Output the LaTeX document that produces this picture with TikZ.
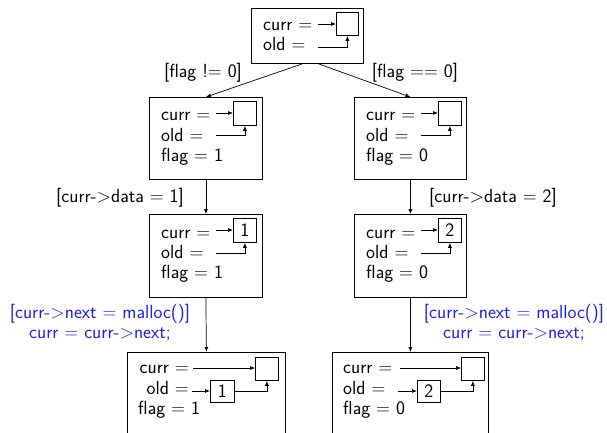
\documentclass[tikz,border=0pt]{standalone}
\usetikzlibrary{arrows.meta}
\definecolor{actionblue}{RGB}{30,30,235}
\begin{document}
\begin{tikzpicture}[x=1pt,y=-1pt,
  every node/.style={font=\sffamily\fontsize{19}{20}\selectfont},
  frame/.style={draw, line width=0.8pt, inner sep=0, anchor=north west},
  cell/.style={draw, line width=0.8pt, inner sep=0, anchor=north west,
    minimum width=23pt, minimum height=24pt},
  txt/.style={anchor=base west, inner sep=0},
  txtr/.style={anchor=base east, inner sep=0},
  ptr/.style={-{Latex[length=5pt,width=4pt]}, line width=0.7pt},
  flow/.style={-{Latex[length=5pt,width=4pt]}, line width=0.7pt},
  cond/.style={anchor=base, inner sep=0},
  act/.style={anchor=base, align=center, text=actionblue, inner sep=0}
]
\clip (0,0) rectangle (607,433);

% ---- initial state ----
\node[frame, minimum width=112pt, minimum height=55pt] (s0) at (251,8) {};
\node[txt] (s0c) at (263,31) {curr =};
\node[txt] (s0o) at (263,51) {old =};
\node[cell, minimum width=22pt, minimum height=23pt] (s0v) at (336,12) {};
\coordinate (s0a) at (318,24);
\coordinate (s0b) at (318,47);
\draw[ptr] (s0a) -- (s0a -| s0v.west);
\draw[ptr] (s0b) -| (s0v.south);

% ---- flag != 0 branch, after the test ----
\node[frame, minimum width=113pt, minimum height=82pt] (m1) at (149,97) {};
\node[txt] at (161,121) {curr =};
\node[txt] at (161,141) {old =};
\node[txt] at (161,161) {flag = 1};
\node[cell] (m1v) at (233,101) {};
\coordinate (m1a) at (216,113);
\coordinate (m1b) at (216,135);
\draw[ptr] (m1a) -- (m1a -| m1v.west);
\draw[ptr] (m1b) -| (m1v.south);

% ---- flag == 0 branch, after the test ----
\node[frame, minimum width=112pt, minimum height=82pt] (m2) at (354,97) {};
\node[txt] at (366,121) {curr =};
\node[txt] at (366,141) {old =};
\node[txt] at (366,161) {flag = 0};
\node[cell] (m2v) at (438,101) {};
\coordinate (m2a) at (421,113);
\coordinate (m2b) at (421,135);
\draw[ptr] (m2a) -- (m2a -| m2v.west);
\draw[ptr] (m2b) -| (m2v.south);

% ---- data written ----
\node[frame, minimum width=113pt, minimum height=83pt] (t1) at (149,214) {};
\node[txt] at (161,238) {curr =};
\node[txt] at (161,258) {old =};
\node[txt] at (161,278) {flag = 1};
\node[cell] (t1v) at (233,218) {1};
\coordinate (t1a) at (216,230);
\coordinate (t1b) at (216,253);
\draw[ptr] (t1a) -- (t1a -| t1v.west);
\draw[ptr] (t1b) -| (t1v.south);

\node[frame, minimum width=112pt, minimum height=83pt] (t2) at (354,214) {};
\node[txt] at (366,238) {curr =};
\node[txt] at (366,258) {old =};
\node[txt] at (366,278) {flag = 0};
\node[cell] (t2v) at (438,218) {2};
\coordinate (t2a) at (421,230);
\coordinate (t2b) at (421,253);
\draw[ptr] (t2a) -- (t2a -| t2v.west);
\draw[ptr] (t2b) -| (t2v.south);

% ---- new cell allocated ----
\node[frame, minimum width=158pt, minimum height=100pt] (b1) at (127,352) {};
\node[txtr] at (189,373) {curr =};
\node[txtr] at (189,394) {old =};
\node[txt] at (138,414) {flag = 1};
\node[cell, minimum height=23pt] (b1n) at (255,357) {};
\node[cell, minimum width=24pt, minimum height=22pt] (b1v) at (210,380) {1};
\coordinate (b1a) at (193,368);
\coordinate (b1b) at (192,391);
\draw[ptr] (b1a) -- (b1a -| b1n.west);
\draw[ptr] (b1b) -- (b1b -| b1v.west);
\draw[ptr] (b1v.east) -| (b1n.south);

\node[frame, minimum width=156pt, minimum height=100pt] (b2) at (332,352) {};
\node[txt] at (343,373) {curr =};
\node[txt] at (343,394) {old =};
\node[txt] at (343,414) {flag = 0};
\node[cell, minimum height=23pt] (b2n) at (461,357) {};
\node[cell, minimum width=23pt, minimum height=22pt] (b2v) at (417,380) {2};
\coordinate (b2a) at (400,368);
\coordinate (b2b) at (398,391);
\draw[ptr] (b2a) -- (b2a -| b2n.west);
\draw[ptr] (b2b) -- (b2b -| b2v.west);
\draw[ptr] (b2v.east) -| (b2n.south);

% ---- transitions ----
\draw[flow] ([xshift=-5pt]s0.south) -- (m1.north);
\draw[flow] ([xshift=11pt]s0.south) -- (m2.north);
\draw[flow] (m1.south) -- (t1.north);
\draw[flow] (m2.south) -- (t2.north);
\draw[flow] (t1.south) -- (b1.north);
\draw[flow] (t2.south) -- (b2.north);

\node[cond] at (203,78) {[flag != 0]};
\node[cond] at (415,78) {[flag == 0]};
\node[cond] at (120,202) {[curr->data = 1]};
\node[cond] at (493,202) {[curr->data = 2]};
\node[act] at (100,338) {[curr->next = malloc()]\\curr = curr->next;};
\node[act] at (514,338) {[curr->next = malloc()]\\curr = curr->next;};
\end{tikzpicture}
\end{document}
